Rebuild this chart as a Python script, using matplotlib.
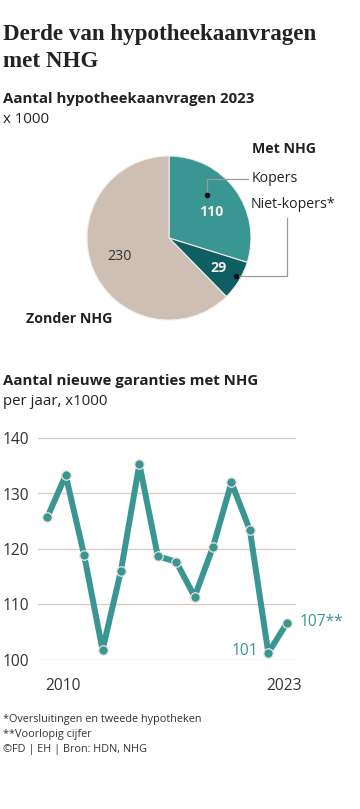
import matplotlib
matplotlib.use("Agg")
import matplotlib.pyplot as plt

plt.rcParams['font.family'] = ['Open Sans', 'DejaVu Sans']

# pie data (x 1000)
pie_labels = ['Kopers', 'Niet-kopers*', 'Zonder NHG']
pie_values = [110, 29, 230]

# line data (x 1000 per year)
years = [2010, 2011, 2012, 2013, 2014, 2015, 2016, 2017, 2018, 2019, 2020, 2021, 2022, 2023]
garanties = [125.7, 133.3, 118.9, 101.8, 116.1, 135.3, 118.7, 117.7, 111.4, 120.4, 132.0, 123.4, 101.3, 106.6]

W, H = 360, 809
TEAL = '#3a9693'
DARK = '#0e5f63'
BEIGE = '#cdbfb4'
INK = '#222222'
LIGHT = '#f2ede7'
FS = 10.8   # subtitles
FL = 10.2   # pie labels
FT = 11.2   # axis numbers


def fx(px):
    return px / W


def fy(py):
    return 1 - py / H


fig = plt.figure(figsize=(W / 100, H / 100), dpi=100)
fig.patch.set_facecolor('white')

# titles
fig.text(fx(3), fy(40), 'Derde van hypotheekaanvragen', family='Liberation Serif',
         fontweight='bold', fontsize=16.6, color=INK)
fig.text(fx(3), fy(67), 'met NHG', family='Liberation Serif',
         fontweight='bold', fontsize=16.6, color=INK)
fig.text(fx(3), fy(103), 'Aantal hypotheekaanvragen 2023', fontweight='bold',
         fontsize=FS, color=INK)
fig.text(fx(3), fy(123), 'x 1000', fontsize=FS, color=INK)

# pie
cx, cy, r = 169, 238, 82
pax = fig.add_axes([fx(cx - r), fy(cy + r), 2 * r / W, 2 * r / H])
pax.pie(pie_values, colors=[TEAL, DARK, BEIGE], startangle=90, counterclock=False,
        radius=1, wedgeprops=dict(edgecolor=LIGHT, linewidth=0.8))
pax.set_xlim(-1, 1)
pax.set_ylim(-1, 1)
pax.set_aspect('equal')
pax.axis('off')

# slice values
pax.text(0.51, 0.32, str(pie_values[0]), ha='center', va='center', color=LIGHT,
         fontweight='bold', fontsize=FL)
pax.text(0.60, -0.37, str(pie_values[1]), ha='center', va='center', color=LIGHT,
         fontweight='bold', fontsize=FL)
pax.text(-0.61, -0.23, str(pie_values[2]), ha='center', va='center', color='#333333',
         fontsize=FL)

# leader lines
pax.plot([0.46, 0.46, 0.96], [0.52, 0.72, 0.72], color='#9a9a9a', lw=0.9, clip_on=False)
pax.plot([0.82, 1.44, 1.44], [-0.46, -0.46, 0.24], color='#9a9a9a', lw=0.9, clip_on=False)
pax.plot([0.46, 0.82], [0.52, -0.46], 'o', color='#111111', ms=3, ls='none', clip_on=False)

fig.text(fx(252), fy(153), 'Met NHG', fontweight='bold', fontsize=FL, color=INK)
fig.text(fx(252), fy(182), pie_labels[0], fontsize=FL, color=INK)
fig.text(fx(251), fy(208), pie_labels[1], fontsize=FL, color=INK)
fig.text(fx(26), fy(323), pie_labels[2], fontweight='bold', fontsize=FL, color=INK)

# line chart
fig.text(fx(3), fy(385), 'Aantal nieuwe garanties met NHG', fontweight='bold',
         fontsize=FS, color=INK)
fig.text(fx(3), fy(405), 'per jaar, x1000', fontsize=FS, color=INK)

ax = fig.add_axes([fx(38), fy(660), (296 - 38) / W, (660 - 438) / H])
ax.plot(years, garanties, color=TEAL, lw=4.3, solid_joinstyle='round', clip_on=False, zorder=3)
ax.plot(years, garanties, 'o', color=TEAL, ms=6.8, mec='#ece2d8', mew=0.9,
        clip_on=False, zorder=4)
ax.set_xlim(years[0] - 0.505, years[-1] + 0.505)
ax.set_ylim(100, 140)
ax.set_yticks([100, 110, 120, 130, 140])
ax.yaxis.grid(True, color='#dccbc0', lw=0.9)
ax.set_axisbelow(True)
for s in ax.spines.values():
    s.set_visible(False)
ax.tick_params(axis='y', length=0, pad=6, labelsize=FT, labelcolor='#333333')
ax.set_xticks([])

ax.annotate('2010', xy=(years[0], 100), xytext=(11, -19), textcoords='offset points',
            ha='center', va='center', fontsize=FT, color='#333333', annotation_clip=False)
ax.annotate('2023', xy=(years[-1], 100), xytext=(-2, -19), textcoords='offset points',
            ha='center', va='center', fontsize=FT, color='#333333', annotation_clip=False)
ax.annotate(str(round(garanties[-2])), xy=(years[-2], garanties[-2]), xytext=(-7, 1),
            textcoords='offset points', ha='right', va='center', fontsize=FT,
            color=TEAL, annotation_clip=False)
ax.annotate(str(round(garanties[-1])) + '**', xy=(years[-1], garanties[-1]), xytext=(9, 1),
            textcoords='offset points', ha='left', va='center', fontsize=FT,
            color=TEAL, annotation_clip=False)

# footer
fig.text(fx(3), fy(722), '*Oversluitingen en tweede hypotheken', fontsize=7.8, color='#333333')
fig.text(fx(3), fy(737), '**Voorlopig cijfer', fontsize=7.8, color='#333333')
fig.text(fx(3), fy(752), '\u00a9FD | EH | Bron: HDN, NHG', fontsize=7.8, color='#333333')

fig.savefig('out.png', dpi=100, facecolor='white')
